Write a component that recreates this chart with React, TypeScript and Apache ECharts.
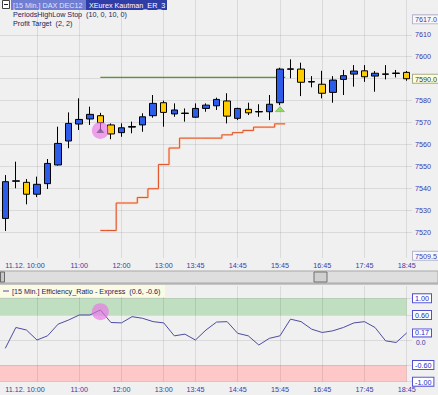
import React, { useEffect, useRef } from "react";
import * as echarts from "echarts";

const TIMES = [
  "09:15", "09:30", "09:45", "10:00", "10:15", "10:30", "10:45",
  "11:00", "11:15", "11:30", "11:45", "12:00", "12:15", "12:30", "12:45",
  "13:00", "13:15", "13:30", "13:45", "14:00", "14:15", "14:30", "14:45",
  "15:00", "15:15", "15:30", "15:45", "16:00", "16:15", "16:30", "16:45",
  "17:00", "17:15", "17:30", "17:45", "18:00", "18:15", "18:30", "18:45",
];

const OPEN = [
  7526.5, 7543.4, 7542.9, 7537.5, 7542.3, 7550.8, 7561.7, 7569.4, 7571.7, 7573.2,
  7569.0, 7565.5, 7568.0, 7569.0, 7573.2, 7579.1, 7574.0, 7574.2, 7572.5, 7576.5,
  7577.7, 7579.9, 7572.0, 7576.1, 7574.9, 7575.0, 7579.1, 7594.3, 7594.4, 7588.5,
  7587.5, 7583.8, 7589.7, 7592.1, 7593.6, 7591.2, 7592.0, 7592.4, 7592.9,
];
const CLOSE = [
  7543.2, 7543.6, 7537.5, 7542.0, 7551.5, 7560.6, 7569.7, 7571.5, 7573.8, 7570.0,
  7564.9, 7567.7, 7568.3, 7572.7, 7578.8, 7574.7, 7575.8, 7574.4, 7576.5, 7578.0,
  7580.6, 7573.0, 7576.5, 7574.5, 7575.1, 7578.4, 7594.4, 7594.5, 7588.4, 7588.7,
  7583.4, 7589.4, 7591.4, 7593.5, 7590.9, 7592.5, 7592.2, 7592.6, 7590.0,
];
const LOW = [
  7520.8, 7540.2, 7532.9, 7536.2, 7539.9, 7550.5, 7558.4, 7566.7, 7569.0, 7566.2,
  7562.5, 7563.6, 7565.2, 7565.9, 7572.3, 7568.2, 7572.7, 7570.5, 7572.3, 7575.0,
  7575.8, 7569.7, 7571.2, 7573.5, 7572.7, 7571.2, 7578.0, 7590.2, 7582.1, 7586.1,
  7581.1, 7579.1, 7582.6, 7586.4, 7588.6, 7584.1, 7589.7, 7590.6, 7589.1,
];
const HIGH = [
  7546.2, 7552.3, 7544.4, 7545.5, 7553.5, 7568.2, 7574.7, 7581.1, 7577.3, 7574.5,
  7569.7, 7569.7, 7570.5, 7574.3, 7582.6, 7580.0, 7578.8, 7576.5, 7578.8, 7578.8,
  7581.4, 7583.4, 7576.8, 7579.1, 7578.4, 7582.6, 7595.0, 7598.8, 7597.3, 7591.2,
  7593.6, 7591.2, 7594.0, 7596.2, 7596.2, 7593.5, 7596.2, 7594.0, 7593.5,
];

const ER = [
  -0.2, 0.3, 0.24, 0.0, 0.1, 0.38, 0.48, 0.6, 0.6, 0.72,
  0.42, 0.41, 0.56, 0.52, 0.44, 0.41, 0.1, 0.14, 0.0, 0.24,
  0.43, 0.44, 0.16, 0.1, -0.12, 0.04, 0.1, 0.5, 0.44, 0.26,
  0.18, 0.22, 0.3, 0.41, 0.44, 0.3, -0.02, -0.06, 0.17,
];

const TICK_IDX = [3, 7, 11, 15, 18, 22, 26, 30, 34, 38];
const TICK_LABELS = ["11.12. 10:00", "11:00", "12:00", "13:00", "13:45", "14:45", "15:45", "16:45", "17:45", "18:45"];
const PRICE_TICKS = [7520, 7530, 7540, 7550, 7560, 7570, 7580, 7590, 7600, 7610];
const PRICE_RANGE_LABELS = [7617.0, 7509.5];
const LAST_PRICE = 7590.0;
const ER_TICKS = [1, 0.6, 0, -0.6, -1];
const ER_LAST = 0.17;
const ER_UPPER_BAND = [0.6, 1];
const ER_LOWER_BAND = [-1, -0.6];

const STOP_FROM = 9;
const STOP = [7521, 7521, 7533.5, 7533.5, 7536, 7540, 7551, 7558.5, 7563, 7563, 7563, 7563, 7564.5, 7565.5, 7566.5, 7568, 7568, 7569.5];
const TARGET = 7590.6;
const ENTRY_IDX = 9;
const ENTRY_PRICE = 7566.5;
const ENTRY_ER = 0.68;
const EXIT_IDX = 26;
const EXIT_PRICE = 7576.2;

// axis ranges (layout)
const P_MIN = 7508.5;
const P_MAX = 7625.8;
const ER_MIN = -1;
const ER_MAX = 1.295;

const FONT = "Liberation Sans";
const AXIS_BLUE = "#3a3aa8";

export default function App() {
  const ref = useRef<HTMLDivElement>(null);

  useEffect(() => {
    document.body.style.margin = "0";
    const chart = echarts.init(ref.current!, undefined, { renderer: "svg" });

    const n = TIMES.length;
    const candles = OPEN.map((o, i) => [o, CLOSE[i], LOW[i], HIGH[i]]);
    const stopPts: number[][] = [[STOP_FROM, STOP[0]]];
    for (let k = 1; k < STOP.length; k++) stopPts.push([STOP_FROM + k - 0.5, STOP[k]]);
    stopPts.push([STOP_FROM + STOP.length - 0.5, STOP[STOP.length - 1]]);
    const targetPts = [[STOP_FROM, TARGET], [STOP_FROM + STOP.length - 0.5, TARGET]];
    const erPts = ER.map((v, i) => [i, v]);

    const timeLabel = {
      customValues: TICK_IDX,
      fontSize: 7.2,
      fontFamily: FONT,
      color: AXIS_BLUE,
      margin: 4,
      formatter: (v: number) => {
        const k = TICK_IDX.indexOf(Math.round(v));
        if (k < 0) return "";
        return k === 0 ? `{d|${TICK_LABELS[k]}}` : TICK_LABELS[k];
      },
      rich: { d: { padding: [0, 24, 0, 0], fontSize: 7.2, fontFamily: FONT, color: AXIS_BLUE } },
    };
    const gridLine = { show: true, lineStyle: { color: "rgba(0,0,0,0.09)", width: 1 } };

    const boxRich = (bg: string, border: string, color: string) => ({
      backgroundColor: bg,
      borderColor: border,
      borderWidth: 1,
      padding: [1, 2, 0, 2],
      color,
      fontSize: 7.2,
      fontFamily: FONT,
    });

    const option: any = {
      animation: false,
      backgroundColor: "#f0f0f0",
      grid: [
        { left: 0, top: 0, width: 412, height: 258, containLabel: false, outerBoundsMode: "none" },
        { left: 0, top: 286, width: 412, height: 95.7, containLabel: false, outerBoundsMode: "none" },
      ],
      xAxis: [
        { type: "category", gridIndex: 0, data: TIMES, show: false },
        {
          type: "value", gridIndex: 0, min: -0.5, max: n - 0.5, position: "bottom",
          axisLine: { show: false }, axisTick: { show: false, customValues: TICK_IDX },
          axisLabel: timeLabel, splitLine: gridLine,
        },
        {
          type: "value", gridIndex: 1, min: -0.5, max: n - 0.5, position: "bottom", z: 2,
          axisLine: { show: false }, axisTick: { show: false, customValues: TICK_IDX },
          axisLabel: timeLabel, splitLine: gridLine,
        },
      ],
      yAxis: [
        {
          type: "value", gridIndex: 0, position: "right", min: P_MIN, max: P_MAX,
          axisLine: { show: false }, axisTick: { show: false, customValues: PRICE_TICKS },
          axisLabel: {
            customValues: PRICE_TICKS, margin: 3, fontSize: 7.2, fontFamily: FONT, color: AXIS_BLUE,
            formatter: (v: number) => (v === LAST_PRICE ? "" : String(v)),
          },
          splitLine: gridLine,
        },
        {
          type: "value", gridIndex: 0, position: "right", min: P_MIN, max: P_MAX,
          axisLine: { show: false }, axisTick: { show: false, customValues: [...PRICE_RANGE_LABELS, LAST_PRICE] },
          splitLine: { show: false },
          axisLabel: {
            customValues: [...PRICE_RANGE_LABELS, LAST_PRICE], margin: 1,
            formatter: (v: number) => (v === LAST_PRICE ? `{l|${v.toFixed(1)}}` : `{b|${v.toFixed(1)}}`),
            rich: {
              b: boxRich("#f8f8fc", "#b4b4cc", AXIS_BLUE),
              l: boxRich("#ffffd6", "#a8a890", "#303080"),
            },
          },
        },
        {
          type: "value", gridIndex: 1, position: "right", min: ER_MIN, max: ER_MAX, z: 2,
          axisLine: { show: false }, axisTick: { show: false, customValues: ER_TICKS },
          axisLabel: {
            customValues: ER_TICKS, margin: 1, fontSize: 7.2, fontFamily: FONT, color: "#3030a8",
            formatter: (v: number) => (v === 0 ? "{z|0.0}" : `{b|${v.toFixed(2)}}`),
            rich: {
              b: boxRich("#ffffff", "#5050d0", "#2626d0"),
              z: { padding: [4, 0, 0, 3], fontSize: 6.8, fontFamily: FONT, color: "#3030a8" },
            },
          },
          splitLine: gridLine,
        },
        {
          type: "value", gridIndex: 1, position: "right", min: ER_MIN, max: ER_MAX,
          axisLine: { show: false }, axisTick: { show: false, customValues: [ER_LAST] },
          splitLine: { show: false },
          axisLabel: {
            customValues: [ER_LAST], margin: 1,
            formatter: (v: number) => `{b|${v.toFixed(2)}}`,
            rich: { b: { ...boxRich("#ffffff", "#5050d0", "#2626d0"), padding: [0, 2, 0, 2] } },
          },
        },
      ],
      series: [
        {
          type: "candlestick", xAxisIndex: 0, yAxisIndex: 0, data: candles, barWidth: 7, z: 5,
          itemStyle: {
            color: "#2d5ce8", color0: "#ffcc00",
            borderColor: "#000", borderColor0: "#000", borderWidth: 1,
          },
        },
        {
          type: "line", xAxisIndex: 1, yAxisIndex: 0, data: stopPts, step: "end", symbol: "none", z: 3,
          lineStyle: { color: "#f9d0b6", width: 2.4 },
        },
        {
          type: "line", xAxisIndex: 1, yAxisIndex: 0, data: stopPts, step: "end", symbol: "none", z: 4,
          lineStyle: { color: "#e2542a", width: 1 },
        },
        {
          type: "line", xAxisIndex: 1, yAxisIndex: 0, data: targetPts, symbol: "none", z: 4,
          lineStyle: { color: "#4f9e1e", width: 1.2 },
        },
        {
          type: "scatter", xAxisIndex: 1, yAxisIndex: 0, data: [[ENTRY_IDX, ENTRY_PRICE]], symbolSize: 17, z: 6,
          itemStyle: { color: "rgba(238,110,232,0.78)" },
        },
        {
          type: "scatter", xAxisIndex: 1, yAxisIndex: 0, data: [[ENTRY_IDX, ENTRY_PRICE]], symbol: "triangle",
          symbolSize: [8, 5], z: 7, itemStyle: { color: "#7c5c8c" },
        },
        {
          type: "scatter", xAxisIndex: 1, yAxisIndex: 0, data: [[EXIT_IDX, EXIT_PRICE]], symbol: "triangle",
          symbolSize: [9, 5], z: 7, itemStyle: { color: "#7fd444", borderColor: "#4f9a2c", borderWidth: 0.6 },
        },
        {
          type: "line", xAxisIndex: 2, yAxisIndex: 2, data: erPts, symbol: "none", z: 1,
          lineStyle: { opacity: 0, width: 0 },
          markArea: {
            silent: true,
            data: [
              [
                { xAxis: -0.5, yAxis: ER_UPPER_BAND[0], itemStyle: { color: "#c0dfc0" } },
                { xAxis: n - 1, yAxis: ER_UPPER_BAND[1] },
              ],
              [
                { xAxis: -0.5, yAxis: ER_LOWER_BAND[0], itemStyle: { color: "#ffc8c8" } },
                { xAxis: n - 1, yAxis: ER_LOWER_BAND[1] },
              ],
            ],
          },
        },
        {
          type: "line", xAxisIndex: 2, yAxisIndex: 2, data: erPts, symbol: "none", z: 4,
          lineStyle: { color: "#4c4ca4", width: 1 },
        },
        {
          type: "scatter", xAxisIndex: 2, yAxisIndex: 2, data: [[ENTRY_IDX, ENTRY_ER]], symbolSize: 17, z: 6,
          itemStyle: { color: "rgba(238,110,232,0.78)" },
        },
      ],
      graphic: [
        // header
        { type: "rect", z: 100, shape: { x: 2.5, y: 0.5, width: 7, height: 8 }, style: { fill: "#ffffff", stroke: "#404040", lineWidth: 1 } },
        { type: "line", z: 101, shape: { x1: 4, y1: 4.5, x2: 8, y2: 4.5 }, style: { stroke: "#202020", lineWidth: 1 } },
        { type: "rect", z: 100, shape: { x: 11, y: 0, width: 75, height: 10 }, style: { fill: "#6f7ed3" } },
        { type: "rect", z: 100, shape: { x: 86, y: 0, width: 81, height: 10 }, style: { fill: "#2e3ea6" } },
        { type: "text", z: 101, style: { text: "[15 Min.] DAX DEC12", x: 13, y: 5, fill: "#dfe3fb", font: `7.2px "${FONT}"`, verticalAlign: "middle" } },
        { type: "text", z: 101, style: { text: "XEurex Kautman_ER_3", x: 89, y: 5, fill: "#ffffff", font: `7.2px "${FONT}"`, verticalAlign: "middle" } },
        { type: "text", z: 101, style: { text: "PeriodsHighLow Stop  (10, 0, 10, 0)", x: 13, y: 14, fill: "#1c1c5c", font: `7.2px "${FONT}"`, verticalAlign: "middle" } },
        { type: "text", z: 101, style: { text: "Profit Target  (2, 2)", x: 13, y: 23, fill: "#1c1c5c", font: `7.2px "${FONT}"`, verticalAlign: "middle" } },
        // scrollbar
        { type: "rect", z: 100, shape: { x: 0, y: 271, width: 438, height: 12 }, style: { fill: "#dedede", stroke: "#a8a8a8", lineWidth: 1 } },
        { type: "rect", z: 101, shape: { x: 0.5, y: 272, width: 4, height: 10 }, style: { fill: "#c8c8c8", stroke: "#505050", lineWidth: 0.8 } },
        { type: "rect", z: 101, shape: { x: 314, y: 272, width: 13, height: 10 }, style: { fill: "#d0d0d0", stroke: "#707070", lineWidth: 1 } },
        { type: "line", z: 101, shape: { x1: 0, y1: 284, x2: 438, y2: 284 }, style: { stroke: "#9a9a9a", lineWidth: 1 } },
        // oscillator header
        { type: "rect", z: 100, shape: { x: 0, y: 285, width: 165, height: 12 }, style: { fill: "#fbfbe4" } },
        { type: "line", z: 101, shape: { x1: 3, y1: 291, x2: 9, y2: 291 }, style: { stroke: "#4c4ca4", lineWidth: 1 } },
        { type: "text", z: 101, style: { text: "[15 Min.] Efficiency_Ratio - Express  (0.6, -0.6)", x: 12, y: 291, fill: "#1c1c5c", font: `7.2px "${FONT}"`, verticalAlign: "middle" } },
      ],
    };

    chart.setOption(option);
    return () => chart.dispose();
  }, []);

  return <div ref={ref} style={{ width: 438, height: 395, background: "#f0f0f0" }} />;
}
